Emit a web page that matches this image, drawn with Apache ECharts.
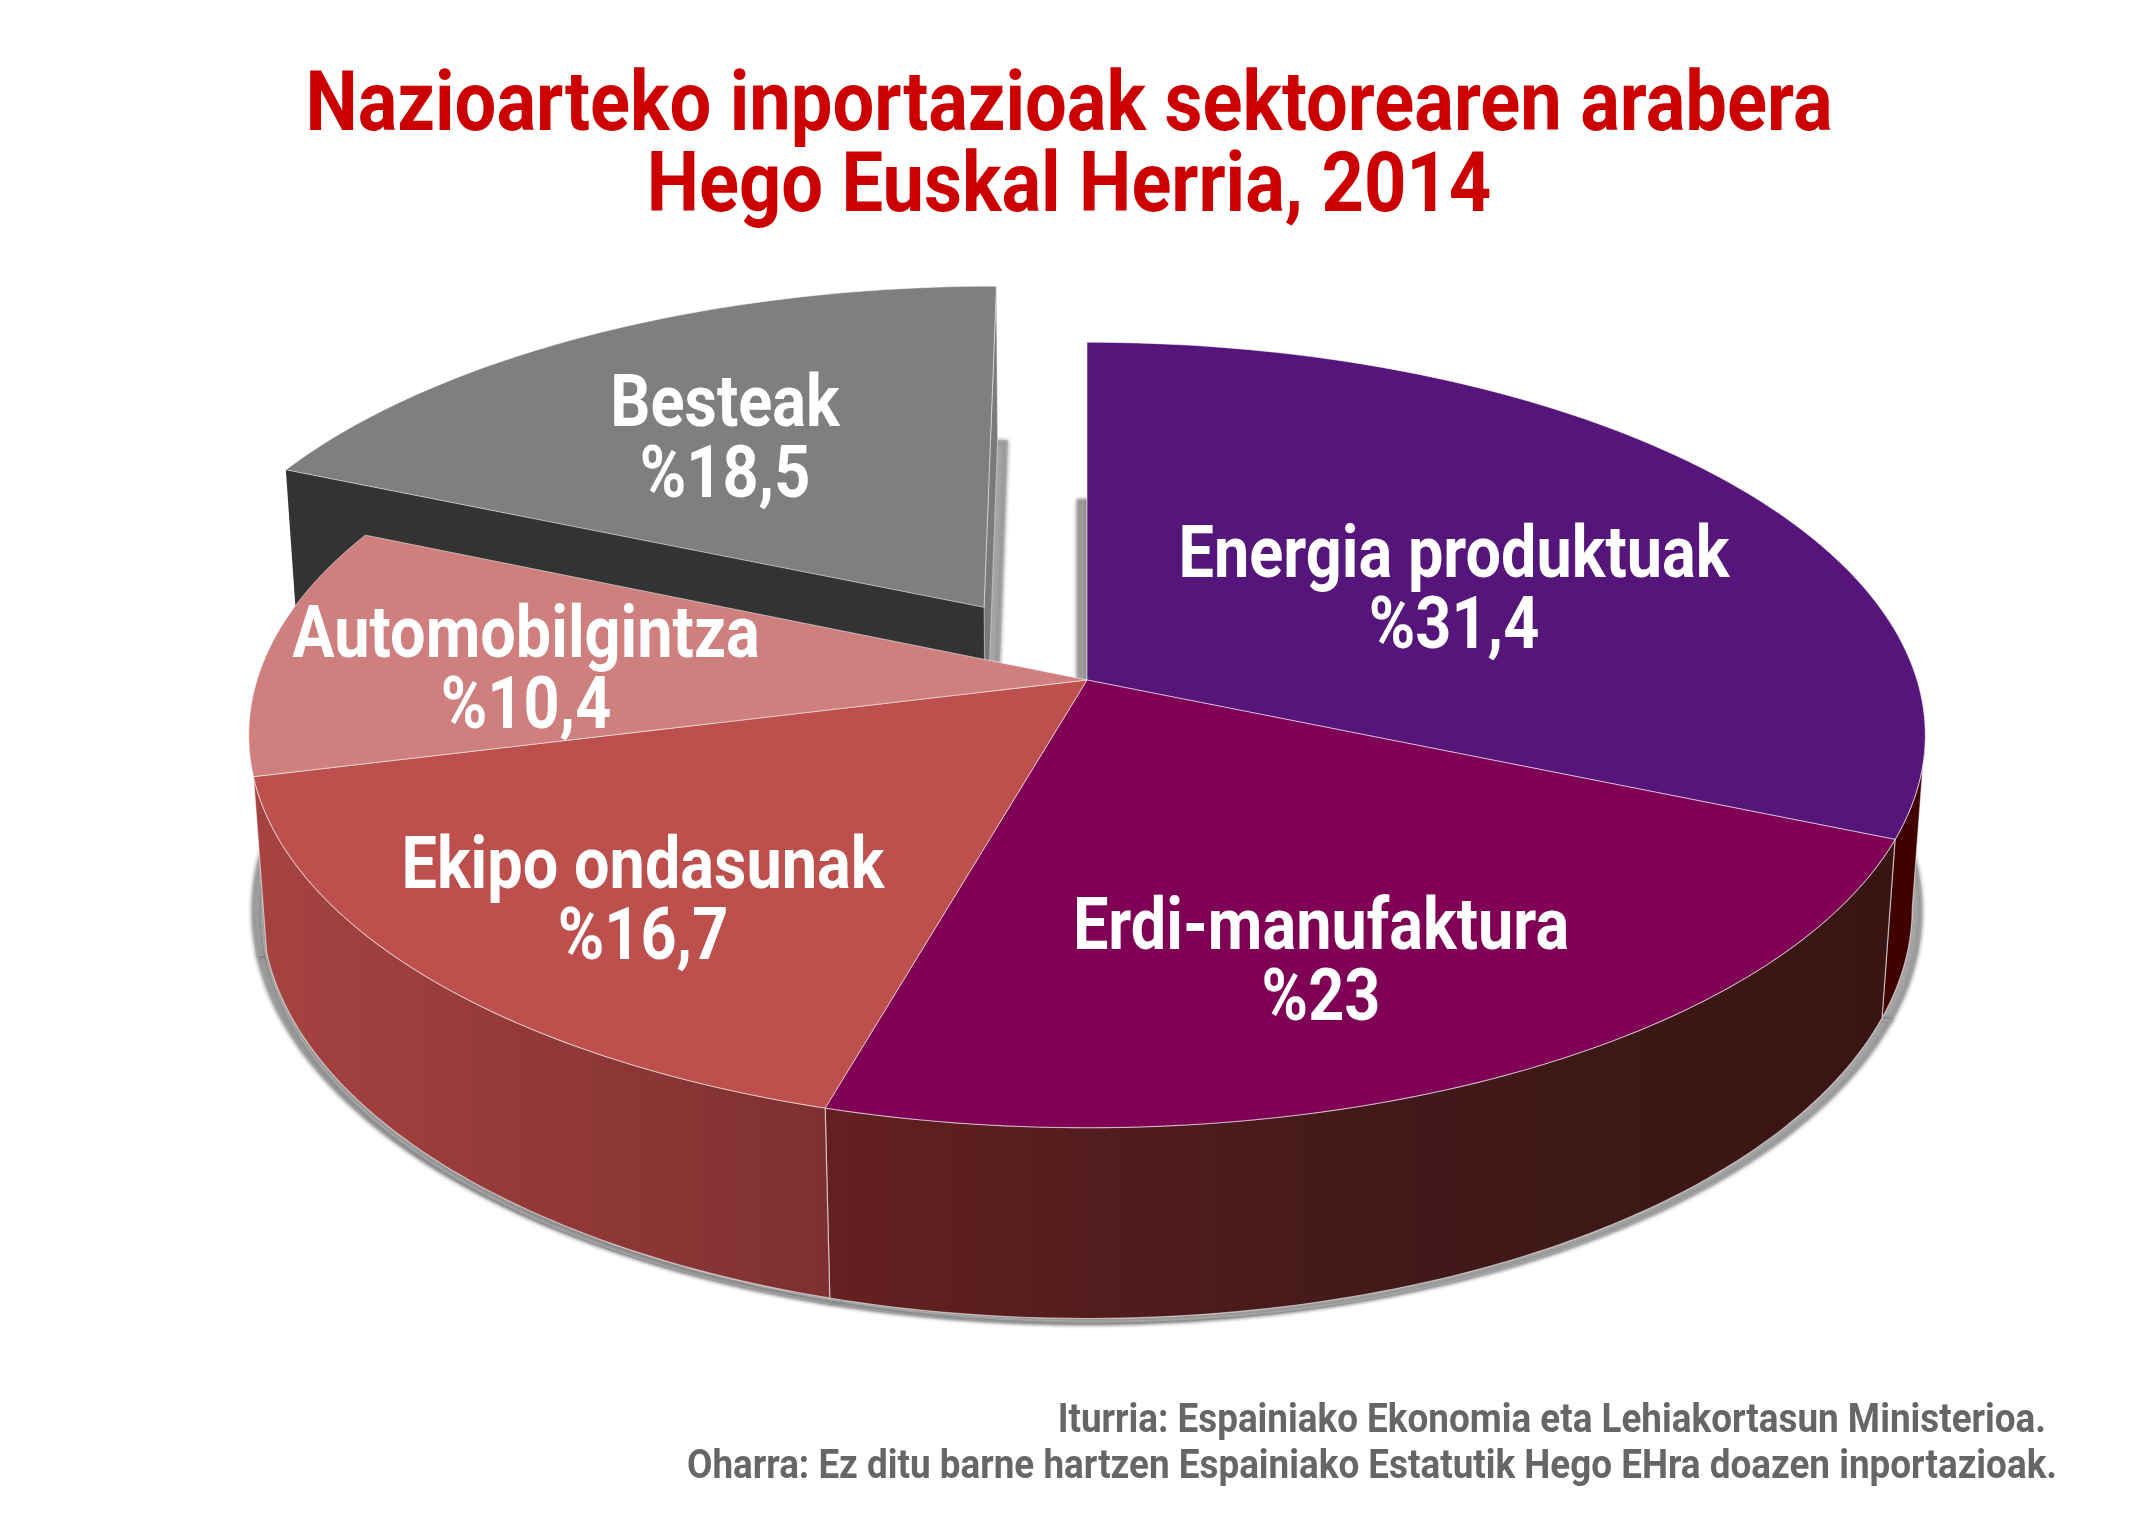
<!DOCTYPE html>
<html><head><meta charset="utf-8">
<style>html,body{margin:0;padding:0;background:#fff}#c{width:2144px;height:1530px}</style>
<script src="https://cdn.jsdelivr.net/npm/echarts@6/dist/echarts.min.js"></script>
</head><body><div id="c"></div>
<script>
// ---- data ----
const categories = ['Energia produktuak','Erdi-manufaktura','Ekipo ondasunak','Automobilgintza','Besteak'];
const shares = [31.4, 23, 16.7, 10.4, 18.5];
const shareLabels = ['%31,4','%23','%16,7','%10,4','%18,5'];
const titleLines = ['Nazioarteko inportazioak sektorearen arabera','Hego Euskal Herria, 2014'];
const noteLines = ['Iturria: Espainiako Ekonomia eta Lehiakortasun Ministerioa.','Oharra: Ez ditu barne hartzen Espainiako Estatutik Hego EHra doazen inportazioak.'];
// ---- styles ----
const topColors = ['#55157a','#7f0055','#bd4f4c','#cf7f7d','#7f7f7f'];
const wallStops = [['#400000','#400000'],['#652020','#43191a','#381513'],['#a64341','#7e3030'],null,null];
const explode = [0,0,0,0,0.232];
const labelPos = [[1454,594],[1321,966],[643,905],[526,674],[725,443]];
const FONT = 'Roboto';
const measure = document.createElement('canvas').getContext('2d');
function fit(text,font,width){ measure.font=font; return width/measure.measureText(text).width; }
const LABEL_FONT='bold 72px '+FONT, TITLE_FONT='bold 84px '+FONT, NOTE_FONT='bold 40px '+FONT;
const labelScale=fit(categories[0],LABEL_FONT,551);
const titleScale=fit(titleLines[0],TITLE_FONT,1527);
const noteScale=fit(noteLines[1],NOTE_FONT,1370);
// ---- projection (perspective view of the disc) ----
const P = {x0:1087, y0:680, rx:830, ry:385, k:0.14, h:174, m:0.0155};
function proj(u,v,low){
  const w = 1 - P.k*v + (low?P.m:0);
  return [P.x0 + P.rx*u/w, P.y0 + (P.ry*v + (low?P.h:0))/w];
}
const total = shares.reduce((a,b)=>a+b,0);
const D2R = Math.PI/180;
const spans = []; { let c=0; shares.forEach(s=>{const a=c/total*360; c+=s; spans.push([a,c/total*360]);}); }
function offset(i){
  const mid=(spans[i][0]+spans[i][1])/2*D2R, d=explode[i];
  return [d*Math.sin(mid), -d*Math.cos(mid)];
}
function rimPt(i,deg,low){
  const o=offset(i), t=deg*D2R;
  return proj(o[0]+Math.sin(t), o[1]-Math.cos(t), low);
}
function arc(i,a,b,low){
  const pts=[], n=Math.max(2,Math.ceil(Math.abs(b-a)));
  for(let j=0;j<=n;j++) pts.push(rimPt(i,a+(b-a)*j/n,low));
  return pts;
}
function apex(i,low){const o=offset(i);return proj(o[0],o[1],low);}
const EDGE='rgba(255,255,255,0.55)';
const RIM_FROM=98, RIM_TO=256;

function poly(points,fill,extra){
  return {type:'polygon',shape:{points},style:Object.assign({fill,stroke:EDGE,lineWidth:1.2},extra||{})};
}
function gradient(stops){
  return new echarts.graphic.LinearGradient(0,0,1,0,stops.map((c,j)=>({offset:j/(stops.length-1),color:c})));
}
const SHADOW={stroke:'#a4a4a4',lineWidth:2,shadowBlur:4,shadowColor:'rgba(110,110,110,0.8)'};
const layers = {
  shadow(i){
    const [a,b]=spans[i];
    const pts=[apex(i,true)].concat(arc(i,a,b,true));
    return {type:'group',children:[-9,0,9].map(dx=>
      poly(pts.map(p=>[p[0]+dx,p[1]+(dx?3:5)]),'#a4a4a4',SHADOW))};
  },
  cut(i){
    if(!explode[i]) return null;
    const [a,b]=spans[i];
    return {type:'group',children:[
      poly([apex(i),rimPt(i,a),rimPt(i,a,true),apex(i,true)],'#333333',{stroke:null}),
      poly([apex(i),rimPt(i,b),rimPt(i,b,true),apex(i,true)],'#7a7a7a',{stroke:'rgba(255,255,255,0.35)'})
    ]};
  },
  wall(i){
    if(!wallStops[i]) return null;
    const a=Math.max(spans[i][0],RIM_FROM), b=Math.min(spans[i][1],RIM_TO);
    if(b<=a) return null;
    const pts=arc(i,a,b,false).concat(arc(i,b,a,true));
    return poly(pts,gradient(wallStops[i]));
  },
  top(i){
    const [a,b]=spans[i];
    const pts=[apex(i)].concat(arc(i,a,b,false));
    return poly(pts,topColors[i],{stroke:explode[i]?'rgba(255,255,255,0.5)':EDGE,lineWidth:1});
  },
  label(i){
    return {type:'text',x:labelPos[i][0],y:labelPos[i][1],scaleX:labelScale,
      style:{text:categories[i]+'\n'+shareLabels[i],x:0,y:0,
      fill:'#fff',align:'center',verticalAlign:'middle',lineHeight:71,font:LABEL_FONT}};
  }
};
function layerSeries(kind,z,filter){
  return {type:'custom',coordinateSystem:'none',z,silent:true,animation:false,clip:false,
    name:kind,
    data:categories.map((c,i)=>({name:c,value:[shares[i],i]})),
    renderItem(params,api){
      const i=api.value(1);
      if(filter && !filter(i)) return null;
      return layers[kind](i);
    }};
}
const isOut=i=>explode[i]>0, isIn=i=>!explode[i];
function headText(text,x,y,scaleX,align,font,fill){
  return {type:'text',x,y,scaleX,z:10,silent:true,style:{text,x:0,y:0,align,verticalAlign:'middle',font,fill}};
}
const chart=echarts.init(document.getElementById('c'),null,{renderer:'canvas',width:2144,height:1530});
chart.setOption({
  backgroundColor:'#fff',animation:false,
  graphic:{elements:[
    headText(titleLines[0],1069,109,titleScale,'center',TITLE_FONT,'#cc0000'),
    headText(titleLines[1],1069,190,titleScale,'center',TITLE_FONT,'#cc0000'),
    headText(noteLines[0],2046,1422,noteScale,'right',NOTE_FONT,'#666666'),
    headText(noteLines[1],2057,1468,noteScale,'right',NOTE_FONT,'#666666')
  ]},
  series:[
    layerSeries('shadow',1),
    layerSeries('cut',2,isOut),
    layerSeries('top',3,isOut),
    layerSeries('wall',4,isIn),
    layerSeries('top',5,isIn),
    layerSeries('label',6)
  ]
});
</script></body></html>
